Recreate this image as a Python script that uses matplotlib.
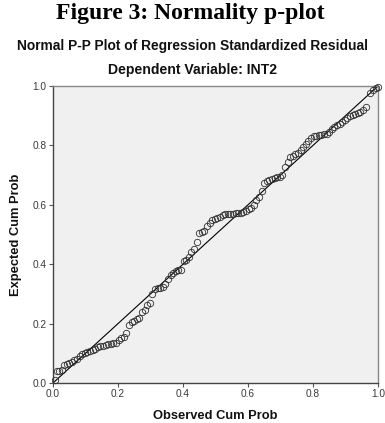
import matplotlib
matplotlib.use("Agg")
import matplotlib.pyplot as plt

# Observed cumulative probability (x) and expected cumulative probability (y)
observed = [0.005,
            0.012, 0.020, 0.028,
            0.035, 0.043, 0.050,
            0.058, 0.066, 0.074,
            0.082, 0.090, 0.098,
            0.106, 0.114, 0.122, 0.130,
            0.138, 0.146, 0.154, 0.162, 0.170, 0.178, 0.186, 0.194,
            0.202, 0.210, 0.218,
            0.226,
            0.234, 0.242, 0.250, 0.258, 0.266,
            0.274, 0.282, 0.290, 0.298,
            0.306, 0.314, 0.322, 0.330, 0.338,
            0.346, 0.354, 0.362,
            0.370, 0.378, 0.386, 0.394,
            0.402, 0.410, 0.418, 0.426, 0.434,
            0.442,
            0.450, 0.458, 0.466,
            0.474, 0.482, 0.490, 0.498, 0.506,
            0.514, 0.522, 0.530, 0.538, 0.546, 0.554, 0.562, 0.570, 0.578, 0.586, 0.594, 0.602,
            0.610, 0.618,
            0.626, 0.634,
            0.642,
            0.650, 0.658, 0.666, 0.674, 0.682, 0.690, 0.698, 0.706,
            0.714,
            0.722, 0.730,
            0.738, 0.746, 0.754, 0.762,
            0.770, 0.778, 0.786,
            0.794, 0.802, 0.810, 0.818, 0.826, 0.834, 0.842, 0.850,
            0.858, 0.866, 0.874, 0.882, 0.890,
            0.898, 0.906, 0.914, 0.922, 0.930, 0.938, 0.946, 0.954, 0.962,
            0.975, 0.985, 0.993, 1.000]

expected = [0.010,
            0.040, 0.042, 0.044,
            0.060, 0.065, 0.068,
            0.072, 0.077, 0.080,
            0.092, 0.098, 0.102,
            0.105, 0.108, 0.110, 0.115,
            0.122, 0.124, 0.126, 0.128, 0.130, 0.132, 0.133, 0.135,
            0.145, 0.150, 0.155,
            0.170,
            0.195, 0.205, 0.210, 0.215, 0.218,
            0.240, 0.245, 0.262, 0.270,
            0.300, 0.318, 0.320, 0.320, 0.322,
            0.335, 0.350, 0.365,
            0.372, 0.378, 0.380, 0.382,
            0.410, 0.415, 0.425, 0.440, 0.450,
            0.475,
            0.505, 0.510, 0.512,
            0.530, 0.540, 0.548, 0.552, 0.555,
            0.560, 0.565, 0.568, 0.570, 0.570, 0.570, 0.571, 0.572, 0.573, 0.575, 0.578, 0.585,
            0.590, 0.600,
            0.615, 0.625,
            0.648,
            0.672, 0.680, 0.685, 0.688, 0.690, 0.692, 0.695, 0.700,
            0.728,
            0.745, 0.760,
            0.765, 0.770, 0.775, 0.785,
            0.795, 0.805, 0.815,
            0.825, 0.830, 0.832, 0.835, 0.836, 0.838, 0.840, 0.845,
            0.855, 0.862, 0.868, 0.872, 0.878,
            0.885, 0.892, 0.898, 0.902, 0.905, 0.908, 0.912, 0.920, 0.928,
            0.978, 0.988, 0.993, 0.997]

ticks = [0.0, 0.2, 0.4, 0.6, 0.8, 1.0]
tick_labels = ["0.0", "0.2", "0.4", "0.6", "0.8", "1.0"]

fig = plt.figure(figsize=(3.85, 4.23), dpi=100)
fig.patch.set_facecolor("white")
ax = fig.add_axes([53/385, 1 - 383/423, 325/385, 297/423])
ax.set_facecolor("#f0f0f0")

ax.plot([0, 1], [0, 1], color="black", lw=0.8, zorder=2)
ax.plot(observed, expected, linestyle="none", marker="o", markersize=4.6,
        markerfacecolor="none", markeredgecolor="#303030", markeredgewidth=0.6,
        zorder=3, clip_on=False)

ax.set_xlim(0, 1)
ax.set_ylim(0, 1)
ax.set_xticks(ticks)
ax.set_xticklabels(tick_labels)
ax.set_yticks(ticks)
ax.set_yticklabels(tick_labels)
ax.tick_params(direction="out", length=3, width=0.8, colors="#555555",
               labelsize=7.3, labelcolor="#3a3a3a", pad=1.5)
for lab in ax.get_xticklabels() + ax.get_yticklabels():
    lab.set_fontfamily("Liberation Sans")

ax.spines["left"].set_color("#444444")
ax.spines["bottom"].set_color("#444444")
ax.spines["left"].set_linewidth(1.0)
ax.spines["bottom"].set_linewidth(1.0)
ax.spines["top"].set_color("#888888")
ax.spines["right"].set_color("#888888")
ax.spines["top"].set_linewidth(1.0)
ax.spines["right"].set_linewidth(1.0)

ax.set_xlabel("Observed Cum Prob", fontfamily="Liberation Sans", fontweight="bold",
              fontsize=9.3, color="#111111", labelpad=8)
ax.set_ylabel("Expected Cum Prob", fontfamily="Liberation Sans", fontweight="bold",
              fontsize=9.3, color="#111111", labelpad=8)

fig.text(0.495, 0.969, "Figure 3: Normality p-plot", ha="center", va="center",
         fontfamily="Liberation Serif", fontweight="bold", fontsize=17)
fig.text(193/385, 0.891, "Normal P-P Plot of Regression Standardized Residual",
         ha="center", va="center", fontfamily="Liberation Sans",
         fontweight="bold", fontsize=9.9, color="#111111")
fig.text(192.5/385, 1 - 70/423, "Dependent Variable: INT2",
         ha="center", va="center", fontfamily="Liberation Sans",
         fontweight="bold", fontsize=10.1, color="#111111")

fig.savefig("out.png", dpi=100, facecolor="white")
